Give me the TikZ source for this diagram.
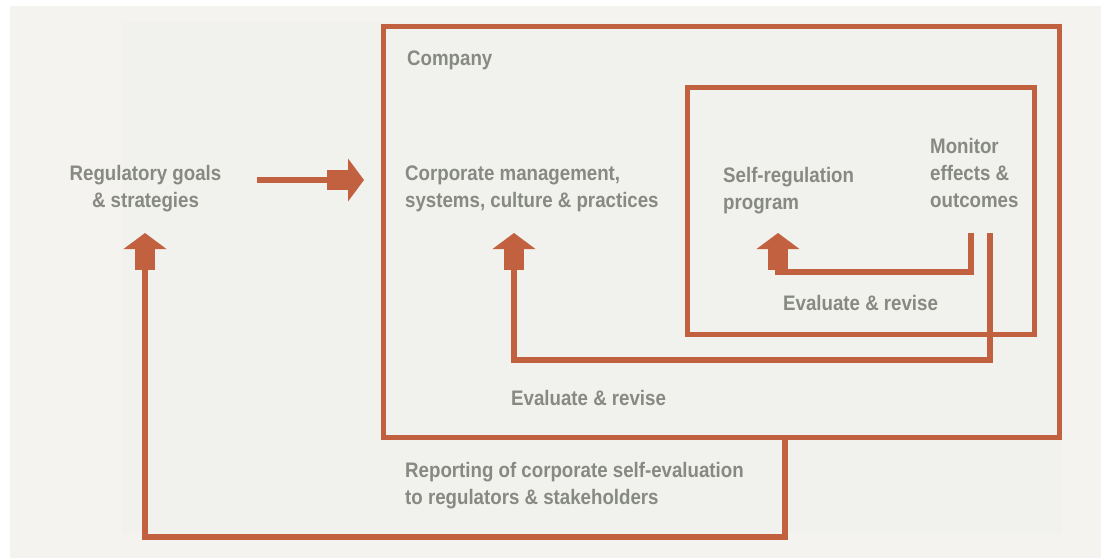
\documentclass[tikz,border=0pt]{standalone}
\usepackage{fontspec}
\setmainfont{Liberation Sans}[FakeStretch=0.89]
\usepackage{tikz}
\usetikzlibrary{arrows.meta,positioning,calc}

\definecolor{brick}{HTML}{C2613F}
\definecolor{stone}{HTML}{878983}
\definecolor{paper}{HTML}{F5F3EF}
\definecolor{paperin}{HTML}{F1F1ED}

\tikzset{
  frame/.style={draw=brick, line width=5pt},
  flow/.style={draw=brick, line width=5.5pt},
  bigtip/.style={-{Rectangle[length=21pt,width=20pt,line width=0pt]Triangle[length=16pt,width=43pt,line width=0pt]}},
  lbl/.style={text=stone, font=\bfseries\fontsize{21}{27}\selectfont, align=left, inner sep=0pt}
}

\begin{document}
\begin{tikzpicture}[x=1pt,y=-1pt]
            \useasboundingbox (0,0) rectangle (1101,558);
            \fill[white] (0,0) rectangle (1101,558);
            \fill[paper] (10,6) rectangle (1101,558);
            \fill[paperin] (122,22) rectangle (1062,533);
            \node[frame, minimum width=676pt, minimum height=411pt] (company) at (721,231.5) {};
            \node[frame, minimum width=347pt, minimum height=247pt] (inner) at (860.5,210.5) {};
            \node[lbl, anchor=west] (companylbl) at (407,60) {Company};
            \node[lbl, align=center] (goals) at (145.5,189) {Regulatory goals\\\& strategies};
            \node[lbl, anchor=west] (corp) at (405,189) {Corporate management,\\systems, culture \& practices};
            \node[lbl, anchor=west] (selfreg) at (723,191) {Self-regulation\\program};
            \node[lbl, anchor=west] (monitor) at (930,173) {Monitor\\effects \&\\outcomes};
            \node[lbl, anchor=west] (evalin) at (783,303) {Evaluate \& revise};
            \node[lbl, anchor=west] (evalout) at (511,398) {Evaluate \& revise};
            \node[lbl, anchor=west] (report) at (405,486) {Reporting of corporate self-evaluation\\to regulators \& stakeholders};
            \coordinate (pushstart) at (257,180);
            \coordinate (pushtip) at (364,180);
            \coordinate (goalstip) at (145,233);
            \coordinate (corptip) at (514,233);
            \coordinate (selftip) at (778,233);
            \coordinate (monA) at (971,233);
            \coordinate (monB) at (990,233);
            \coordinate (reptop) at (785,437);
            \draw[flow, bigtip] (pushstart) -- (pushtip);
            \draw[flow, bigtip] (monA) -- ($(monA)+(0,39)$) -| (selftip);
            \draw[flow, bigtip] (monB) -- ($(monB)+(0,127)$) -| (corptip);
            \draw[flow, bigtip] (reptop) -- ($(reptop)+(0,100)$) -| (goalstip);
        \end{tikzpicture}
\end{document}
